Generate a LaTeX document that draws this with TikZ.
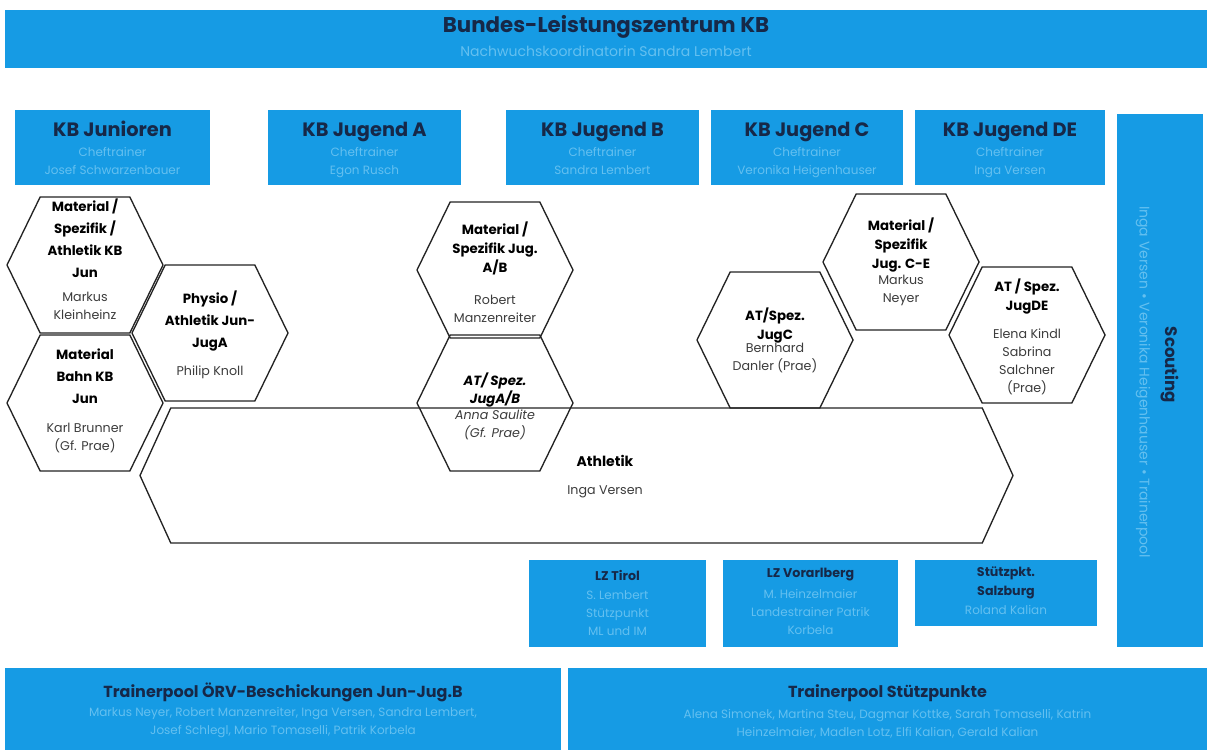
\documentclass[tikz,border=0pt]{standalone}
\usepackage{fontspec}
\setmainfont{Poppins}
\usetikzlibrary{shapes.geometric,shapes.symbols}
\definecolor{boxblue}{RGB}{22,155,228}
\definecolor{navy}{RGB}{22,40,72}
\definecolor{subblue}{RGB}{100,192,240}
\definecolor{olc}{RGB}{35,35,35}
\definecolor{namegray}{RGB}{60,60,60}
\tikzset{
  bx/.style 2 args={minimum width=#1*0.75pt, minimum height=#2*0.75pt},
  bluebox/.style={fill=boxblue, draw=none, inner sep=0pt},
  bigttl/.style={inner sep=0pt, text=navy, font=\bfseries\fontsize{16}{19}\selectfont},
  teamttl/.style={inner sep=0pt, anchor=base, text=navy, font=\bfseries\fontsize{14.5}{17}\selectfont},
  subtxt/.style={inner sep=0pt, text=subblue, align=center, font=\fontsize{9}{13.5}\selectfont},
  subbase/.style={subtxt, anchor=base},
  smallttl/.style={inner sep=0pt, text=navy, align=center, font=\bfseries\fontsize{9.5}{14}\selectfont},
  poolttl/.style={inner sep=0pt, text=navy, font=\bfseries\fontsize{12}{15}\selectfont},
  hexa/.style={signal, signal to=east and west, signal pointer angle=128, bx={156}{136}, inner sep=0pt, draw=olc, line width=1pt},
  role/.style={inner sep=0pt, align=center, text=black, font=\bfseries\fontsize{10}{14}\selectfont},
  roleL/.style={role, font=\bfseries\fontsize{10}{16.5}\selectfont},
  pers/.style={inner sep=0pt, align=center, text=namegray, font=\fontsize{9.5}{13.5}\selectfont},
}
\begin{document}
\begin{tikzpicture}[x=0.75pt,y=-0.75pt]
\useasboundingbox (0,0) rectangle (1207,756);
\fill[white] (0,0) rectangle (1207,756);

% top banner
\node[bluebox, bx={1202}{58}] (top) at (606,39) {};
\node[bigttl] (topT) at (606,27) {Bundes-Leistungszentrum KB};
\node[subtxt, font=\fontsize{10.5}{13}\selectfont] (topS) at (606,51) {Nachwuchskoordinatorin Sandra Lembert};

% team boxes
\node[bluebox, bx={195}{75}] (jun) at (112.5,147.5) {};
\node[teamttl] (junT) at (112.5,137) {KB Junioren};
\node[subbase] (junS1) at (112.5,157) {Cheftrainer};
\node[subbase] (junS2) at (112.5,175) {Josef Schwarzenbauer};

\node[bluebox, bx={193}{75}] (ja) at (364.5,147.5) {};
\node[teamttl] (jaT) at (364.5,137) {KB Jugend A};
\node[subbase] (jaS1) at (364.5,157) {Cheftrainer};
\node[subbase] (jaS2) at (364.5,175) {Egon Rusch};

\node[bluebox, bx={193}{75}] (jb) at (602.5,147.5) {};
\node[teamttl] (jbT) at (602.5,137) {KB Jugend B};
\node[subbase] (jbS1) at (602.5,157) {Cheftrainer};
\node[subbase] (jbS2) at (602.5,175) {Sandra Lembert};

\node[bluebox, bx={192}{75}] (jc) at (807,147.5) {};
\node[teamttl] (jcT) at (807,137) {KB Jugend C};
\node[subbase] (jcS1) at (807,157) {Cheftrainer};
\node[subbase] (jcS2) at (807,175) {Veronika Heigenhauser};

\node[bluebox, bx={190}{75}] (jde) at (1010,147.5) {};
\node[teamttl] (jdeT) at (1010,137) {KB Jugend DE};
\node[subbase] (jdeS1) at (1010,157) {Cheftrainer};
\node[subbase] (jdeS2) at (1010,175) {Inga Versen};

% scouting
\node[bluebox, bx={86}{533}] (sc) at (1160,380.5) {};
\node[inner sep=0pt, text=navy, font=\bfseries\fontsize{12.5}{15}\selectfont, rotate=-90] (scT) at (1170,365) {Scouting};
\node[subtxt, font=\fontsize{10.5}{13}\selectfont, rotate=-90] (scS) at (1143,382) {Inga Versen \textbullet\ Veronika Heigenhauser \textbullet\ Trainerpool};

% left hex cluster
\node[hexa] (h1) at (85,265) {};
\node[roleL] (h1r) at (85,238.5) {Material /\\Spezifik /\\Athletik KB\\Jun};
\node[pers] (h1p) at (85,306) {Markus\\Kleinheinz};

\node[hexa] (h2) at (85,403) {};
\node[roleL] (h2r) at (85,376) {Material\\Bahn KB\\Jun};
\node[pers] (h2p) at (85,437.5) {Karl Brunner\\(Gf. Prae)};

\node[hexa] (h3) at (210,333) {};
\node[roleL] (h3r) at (210,321) {Physio /\\Athletik Jun-\\JugA};
\node[pers] (h3p) at (210,372) {Philip Knoll};

% middle hex cluster
\node[hexa] (m1) at (495,270) {};
\node[role] (m1r) at (495,248.5) {Material /\\Spezifik Jug.\\A/B};
\node[pers] (m1p) at (495,308.5) {Robert\\Manzenreiter};

\node[hexa] (m2) at (495,403) {};
\node[role, font=\bfseries\itshape\fontsize{10}{14}\selectfont] (m2r) at (495,390) {AT/ Spez.\\JugA/B};
\node[pers, font=\itshape\fontsize{9.5}{13.5}\selectfont] (m2p) at (495,424.5) {Anna Saulite\\(Gf. Prae)};

% right hex cluster
\node[hexa] (r1) at (901,262) {};
\node[role] (r1r) at (901,245) {Material /\\Spezifik\\Jug. C-E};
\node[pers] (r1p) at (901,290.5) {Markus\\Neyer};

\node[hexa] (r2) at (775,340) {};
\node[role] (r2r) at (775,325.5) {AT/Spez.\\JugC};
\node[pers] (r2p) at (775,357.5) {Bernhard\\Danler (Prae)};

\node[hexa] (r3) at (1027,335) {};
\node[role] (r3r) at (1027,296.5) {AT / Spez.\\JugDE};
\node[pers] (r3p) at (1027,361.5) {Elena Kindl\\Sabrina\\Salchner\\(Prae)};

% Athletik
\node[hexa, signal pointer angle=131, bx={873}{135}] (ath) at (576.5,475.5) {};
\node[role, font=\bfseries\fontsize{10.5}{14}\selectfont] (athT) at (605,461) {Athletik};
\node[pers] (athP) at (605,492) {Inga Versen};

% LZ boxes
\node[bluebox, bx={177}{87}] (lzt) at (617.5,603.5) {};
\node[smallttl] (lztT) at (617.5,575) {LZ Tirol};
\node[subtxt] (lztS) at (617.5,613) {S. Lembert\\St\"utzpunkt\\ML und IM};

\node[bluebox, bx={175}{87}] (lzv) at (810.5,603.5) {};
\node[smallttl] (lzvT) at (810.5,575) {LZ Vorarlberg};
\node[subtxt] (lzvS) at (810.5,612) {M. Heinzelmaier\\Landestrainer Patrik\\Korbela};

\node[bluebox, bx={182}{66}] (sbg) at (1006,593) {};
\node[smallttl] (sbgT) at (1006,583) {St\"utzpkt.\\Salzburg};
\node[subtxt] (sbgS) at (1006,610) {Roland Kalian};

% bottom pools
\node[bluebox, bx={556}{82}] (pl) at (283,709) {};
\node[poolttl] (plT) at (283,692) {Trainerpool ÖRV-Beschickungen Jun-Jug.B};
\node[subtxt] (plS) at (283,722.5) {Markus Neyer, Robert Manzenreiter, Inga Versen, Sandra Lembert,\\Josef Schlegl, Mario Tomaselli, Patrik Korbela};

\node[bluebox, bx={639}{82}] (pr) at (887.5,709) {};
\node[poolttl] (prT) at (887.5,693) {Trainerpool St\"utzpunkte};
\node[subtxt] (prS) at (887.5,723.5) {Alena Simonek, Martina Steu, Dagmar Kottke, Sarah Tomaselli, Katrin\\Heinzelmaier, Madlen Lotz, Elfi Kalian, Gerald Kalian};
\end{tikzpicture}
\end{document}
